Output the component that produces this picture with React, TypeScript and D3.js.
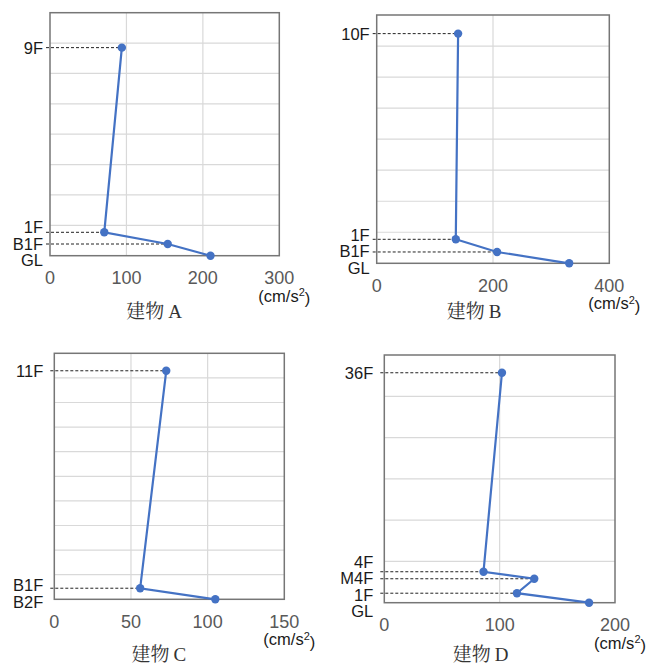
import React, { useEffect, useRef } from 'react';
import * as d3 from 'd3';

// 建物ごとのデータ (高さはグリッド単位, 値は cm/s2)
const titleNames = ['建物', '建物', '建物', '建物'];
const titleLetters = ['A', 'B', 'C', 'D'];
const floorsA = ['GL', 'B1F', '1F', '9F'];
const heightsA = [0, 0.385, 0.77, 6.85];
const valuesA = [210, 154, 71, 94];
const floorsB = ['GL', 'B1F', '1F', '10F'];
const heightsB = [0, 0.365, 0.773, 7.4];
const valuesB = [331, 207, 136, 140];
const floorsC = ['B2F', 'B1F', '11F'];
const heightsC = [0, 0.45, 9.29];
const valuesC = [105, 56, 73];
const floorsD = ['GL', '1F', 'M4F', '4F', '36F'];
const heightsD = [0, 0.23, 0.58, 0.75, 5.57];
const valuesD = [177.5, 115, 130, 86, 102];
const xTicksA = [0, 100, 200, 300];
const xTicksB = [0, 200, 400];
const xTicksC = [0, 50, 100, 150];
const xTicksD = [0, 100, 200];
const yMaxes = [8, 8, 10, 6];

const width = 659;
const height = 666;
const blue = '#4472c4';

// パネルの配置
const layout = [
  { left: 50, top: 12.7, right: 279.3, bottom: 255.7, labelGap: 7, titleDx: 10.5, titleDy: 55 },
  { left: 376.7, top: 15, right: 609.3, bottom: 263.3, labelGap: 7, titleDx: 19, titleDy: 48 },
  { left: 54.3, top: 353.3, right: 284.3, bottom: 599.3, labelGap: 11, titleDx: 10.5, titleDy: 55 },
  { left: 384.3, top: 355, right: 615, bottom: 602.7, labelGap: 11, titleDx: 19, titleDy: 51.5 },
];

// ラベルの重なりを避ける (クラスタを平均位置でまとめる)
const spreadLabels = (ideal: number[], gap: number) => {
  const order = d3.range(ideal.length).sort((a, b) => ideal[a] - ideal[b]);
  let clusters = order.map(i => ({ ids: [i], pos: ideal[i] }));
  let merged = true;
  while (merged) {
    merged = false;
    for (let k = 0; k < clusters.length - 1; k++) {
      const a = clusters[k];
      const b = clusters[k + 1];
      const aEnd = a.pos + (a.ids.length - 1) * gap;
      if (b.pos - aEnd < gap) {
        const ids = a.ids.concat(b.ids);
        const mean = d3.mean(ids, (id, j) => ideal[id] - j * gap) as number;
        clusters.splice(k, 2, { ids, pos: mean });
        merged = true;
        break;
      }
    }
  }
  const out = new Array(ideal.length).fill(0);
  clusters.forEach(c => c.ids.forEach((id, j) => { out[id] = c.pos + j * gap; }));
  return out;
};

const Chart = () => {
  const svgRef = useRef<SVGSVGElement>(null);

  useEffect(() => {
    const svg = d3.select(svgRef.current);
    svg.selectAll('*').remove();

    const panels = [
      { floors: floorsA, heights: heightsA, values: valuesA, ticks: xTicksA },
      { floors: floorsB, heights: heightsB, values: valuesB, ticks: xTicksB },
      { floors: floorsC, heights: heightsC, values: valuesC, ticks: xTicksC },
      { floors: floorsD, heights: heightsD, values: valuesD, ticks: xTicksD },
    ];

    panels.forEach((p, i) => {
      const L = layout[i];
      const g = svg.append('g');
      const x = d3.scaleLinear([0, p.ticks[p.ticks.length - 1]], [L.left, L.right]);
      const y = d3.scaleLinear([0, yMaxes[i]], [L.bottom, L.top]);

      // グリッド
      g.selectAll('line.hg')
        .data(d3.range(1, yMaxes[i]))
        .join('line')
        .attr('x1', L.left).attr('x2', L.right)
        .attr('y1', d => y(d)).attr('y2', d => y(d))
        .attr('stroke', '#d9d9d9').attr('stroke-width', 1.2);
      g.selectAll('line.vg')
        .data(p.ticks.slice(1, -1))
        .join('line')
        .attr('x1', d => x(d)).attr('x2', d => x(d))
        .attr('y1', L.top).attr('y2', L.bottom)
        .attr('stroke', '#d9d9d9').attr('stroke-width', 1.2);

      g.append('rect')
        .attr('x', L.left).attr('y', L.top)
        .attr('width', L.right - L.left).attr('height', L.bottom - L.top)
        .attr('fill', 'none').attr('stroke', '#767676').attr('stroke-width', 1.5);

      // 点線
      const idx = d3.range(p.floors.length);
      g.selectAll('line.dash')
        .data(idx.filter(k => p.heights[k] > 0))
        .join('line')
        .attr('x1', L.left - 4).attr('x2', k => x(p.values[k]))
        .attr('y1', k => y(p.heights[k])).attr('y2', k => y(p.heights[k]))
        .attr('stroke', '#222').attr('stroke-width', 1)
        .attr('stroke-dasharray', '3,2');

      // 折れ線と点
      const line = d3.line<number>()
        .x(k => x(p.values[k]))
        .y(k => y(p.heights[k]));
      g.append('path')
        .attr('d', line(idx))
        .attr('fill', 'none').attr('stroke', blue).attr('stroke-width', 2.2);
      g.selectAll('circle')
        .data(idx)
        .join('circle')
        .attr('cx', k => x(p.values[k]))
        .attr('cy', k => y(p.heights[k]))
        .attr('r', 4.2)
        .attr('fill', blue);

      // 階ラベル
      const labelY = spreadLabels(p.heights.map(h => y(h)), 16.5);
      g.selectAll('text.floor')
        .data(idx)
        .join('text')
        .attr('x', L.left - L.labelGap)
        .attr('y', k => labelY[k])
        .attr('dy', '0.36em')
        .attr('text-anchor', 'end')
        .attr('font-family', 'Liberation Sans, Arial, sans-serif')
        .attr('font-size', 16.5)
        .attr('fill', '#1a1a1a')
        .text(k => p.floors[k]);

      // x 目盛
      g.selectAll('text.tick')
        .data(p.ticks)
        .join('text')
        .attr('x', d => x(d))
        .attr('y', L.bottom + 22)
        .attr('dy', '0.36em')
        .attr('text-anchor', 'middle')
        .attr('font-family', 'Liberation Sans, Arial, sans-serif')
        .attr('font-size', 18)
        .attr('fill', '#595959')
        .text(d => d);

      // 単位
      const unit = g.append('text')
        .attr('x', L.right + 31)
        .attr('y', L.bottom + 40)
        .attr('dy', '0.36em')
        .attr('text-anchor', 'end')
        .attr('font-family', 'Liberation Sans, Arial, sans-serif')
        .attr('font-size', 16.5)
        .attr('fill', '#1a1a1a');
      unit.append('tspan').text('(cm/s');
      unit.append('tspan').attr('font-size', 11).attr('dy', '-0.5em').text('2');
      unit.append('tspan').attr('dy', '0.5em').text(')');

      // タイトル
      const title = g.append('text')
        .attr('x', (L.left + L.right) / 2 - L.titleDx)
        .attr('y', L.bottom + L.titleDy)
        .attr('dy', '0.36em')
        .attr('text-anchor', 'middle')
        .attr('font-family', 'Liberation Serif, Noto Serif CJK JP, Noto Sans CJK JP, serif')
        .attr('font-size', 19)
        .attr('fill', '#333');
      title.append('tspan').text(titleNames[i]);
      title.append('tspan').attr('dx', 4).text(titleLetters[i]);
    });
  }, []);

  return (
    <svg ref={svgRef} width={width} height={height}
      style={{ position: 'absolute', left: 0, top: 0, background: '#fff' }} />
  );
};

export default function App() {
  return <Chart />;
}
